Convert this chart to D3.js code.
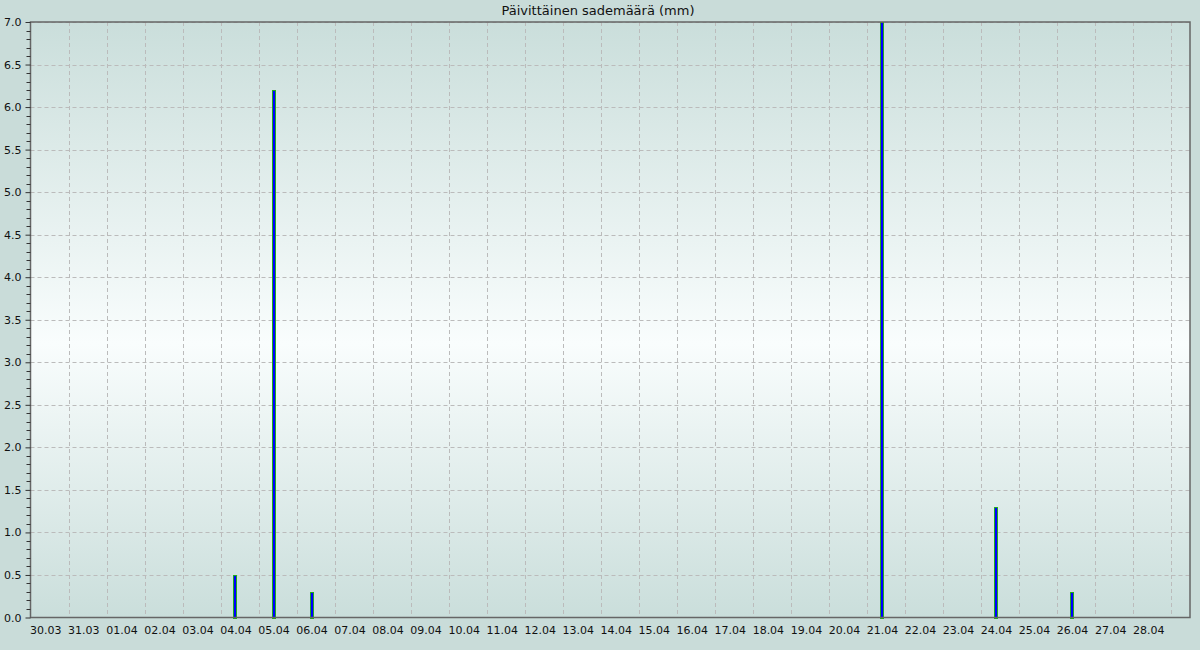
<!DOCTYPE html>
<html><head><meta charset="utf-8">
<script src="https://cdn.jsdelivr.net/npm/d3@7"></script>
<style>body{margin:0;background:#c9dcd9;}svg{display:block;}</style>
</head><body>
<svg id="c" width="1200" height="650"></svg>
<script>
const title = "Päivittäinen sademäärä (mm)";
const days = ["30.03","31.03","01.04","02.04","03.04","04.04","05.04","06.04","07.04","08.04","09.04","10.04","11.04","12.04","13.04","14.04","15.04","16.04","17.04","18.04","19.04","20.04","21.04","22.04","23.04","24.04","25.04","26.04","27.04","28.04"];
const rain = [0,0,0,0,0,0.5,6.2,0.3,0,0,0,0,0,0,0,0,0,0,0,0,0,0,7.0,0,0,1.3,0,0.3,0,0];
const yTicks = [0,0.5,1,1.5,2,2.5,3,3.5,4,4.5,5,5.5,6,6.5,7];

const W=1200,H=650;
const m={l:30.5,r:1190,t:22,b:617.5};
const svg=d3.select("#c");
const defs=svg.append("defs");
const g=defs.append("linearGradient").attr("id","bg").attr("x1",0).attr("y1",0).attr("x2",0).attr("y2",1);
g.append("stop").attr("offset","0%").attr("stop-color","#cadedb");
g.append("stop").attr("offset","54%").attr("stop-color","#f9fdfd");
g.append("stop").attr("offset","100%").attr("stop-color","#cadedb");

svg.append("rect").attr("width",W).attr("height",H).attr("fill","#c9dcd9");

const x=d3.scaleLinear().domain([0,30.49]).range([m.l,m.r]);
const y=d3.scaleLinear().domain([0,7]).range([m.b,m.t]);
const off=0.39;

svg.append("rect").attr("x",m.l).attr("y",m.t).attr("width",m.r-m.l).attr("height",m.b-m.t).attr("fill","url(#bg)");

// grid
const grid=svg.append("g").attr("stroke","#bbbbbb").attr("stroke-dasharray","4,3").attr("stroke-width",1);
d3.range(1,days.length+1).forEach(k=>{
  const xx=Math.round(x(k))+0.5;
  grid.append("line").attr("x1",xx).attr("x2",xx).attr("y1",m.t).attr("y2",m.b);
});
yTicks.slice(1).forEach(v=>{
  const yy=Math.round(y(v))+0.5;
  grid.append("line").attr("x1",m.l).attr("x2",m.r).attr("y1",yy).attr("y2",yy);
});

// bars
svg.append("g").selectAll("rect").data(rain.map((v,i)=>({v,i})).filter(d=>d.v>0)).join("rect")
  .attr("x",d=>Math.round(x(d.i+off))-1.5).attr("width",3)
  .attr("y",d=>Math.round(y(d.v))+0.5).attr("height",d=>Math.round(y(0))-Math.round(y(d.v)))
  .attr("fill","#0000ff").attr("stroke","#22aa22").attr("stroke-width",1);

// frame
svg.append("rect").attr("x",m.l).attr("y",m.t).attr("width",m.r-m.l).attr("height",m.b-m.t)
  .attr("fill","none").attr("stroke","#666666").attr("stroke-width",1.5);

// y axis
const yAxis=d3.axisLeft(y).tickValues(yTicks).tickFormat(d3.format(".1f")).tickSize(5).tickPadding(4);
const ya=svg.append("g").attr("transform",`translate(${m.l},0)`).call(yAxis);
ya.select(".domain").remove();
ya.selectAll("line").attr("stroke","#333");
ya.selectAll("text").attr("font-family","DejaVu Sans").attr("font-size",11).attr("fill","#111");
const minor=d3.range(0,71).map(i=>i/10).filter(v=>Math.abs(v*2-Math.round(v*2))>1e-6);
svg.append("g").selectAll("line").data(minor).join("line")
  .attr("x1",m.l-4).attr("x2",m.l).attr("y1",d=>Math.round(y(d))+0.5).attr("y2",d=>Math.round(y(d))+0.5)
  .attr("stroke","#333");

// x axis labels
const xAxis=d3.axisBottom(x).tickValues(d3.range(days.length).map(i=>i+off)).tickFormat((d,i)=>days[i]).tickSize(0).tickPadding(9);
const xa=svg.append("g").attr("transform",`translate(0,${m.b})`).call(xAxis);
xa.select(".domain").remove();
xa.selectAll("text").attr("font-family","DejaVu Sans").attr("font-size",11).attr("fill","#111");

svg.append("text").attr("x",598).attr("y",15).attr("text-anchor","middle")
  .attr("font-family","DejaVu Sans").attr("font-size",13).attr("fill","#111").text(title);
</script>
</body></html>
